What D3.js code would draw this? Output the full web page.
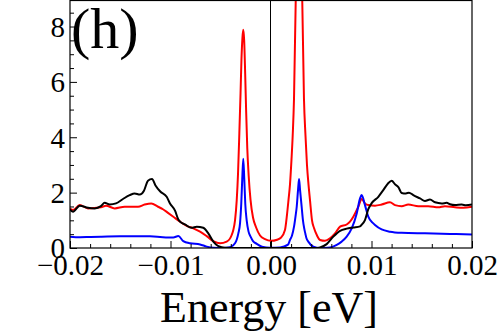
<!DOCTYPE html>
<html>
<head>
<meta charset="utf-8">
<script src="https://cdn.jsdelivr.net/npm/d3@7"></script>
<style>
  html, body { margin: 0; padding: 0; background: #fff; }
  svg { display: block; }
  text { font-family: "Liberation Serif", "DejaVu Serif", serif; fill: #000; }
</style>
</head>
<body>
<svg id="chart" width="500" height="334"></svg>
<script>
// ---- data (energy in eV, density of states) ----
const panelLabel = "(h)";
const xAxisTitle = "Energy [eV]";
const energyTicks = [-0.02, -0.01, 0, 0.01, 0.02];
const energyTickLabels = ["\u22120.02", "\u22120.01", "0.00", "0.01", "0.02"];
const dosTicks = [0, 2, 4, 6, 8];
const dosTickLabels = ["0", "2", "4", "6", "8"];

const blackDOS = [
  [-0.02000,1.39],[-0.01970,1.31],[-0.01903,1.53],[-0.01821,1.45],[-0.01754,1.43],
  [-0.01692,1.51],[-0.01655,1.63],[-0.01605,1.57],[-0.01542,1.61],[-0.01473,1.77],
  [-0.01406,1.91],[-0.01356,1.97],[-0.01306,1.93],[-0.01264,2.07],[-0.01224,2.43],
  [-0.01184,2.49],[-0.01151,2.27],[-0.01104,2.05],[-0.01038,1.85],[-0.01005,1.61],
  [-0.00955,1.35],[-0.00922,1.03],[-0.00905,0.95],[-0.00856,0.85],[-0.00789,0.73],
  [-0.00739,0.77],[-0.00674,0.73],[-0.00624,0.53],[-0.00574,0.23],[-0.00524,0.07],
  [-0.00458,0.01],[-0.00259,0.00],[0.00000,0.00],[0.00289,0.00],[0.00448,0.00],
  [0.00488,0.02],[0.00554,0.14],[0.00620,0.41],[0.00687,0.62],[0.00753,0.70],
  [0.00819,0.74],[0.00886,0.78],[0.00905,0.85],[0.00935,1.01],[0.00968,1.40],
  [0.01002,1.62],[0.01068,1.85],[0.01117,2.09],[0.01164,2.33],[0.01201,2.43],
  [0.01234,2.30],[0.01267,2.20],[0.01300,1.99],[0.01343,1.97],[0.01373,2.00],
  [0.01416,1.91],[0.01483,1.79],[0.01532,1.70],[0.01582,1.75],[0.01632,1.65],
  [0.01699,1.61],[0.01748,1.63],[0.01781,1.58],[0.01831,1.55],[0.01898,1.57],
  [0.01940,1.54],[0.02000,1.57]
];

const redDOS = [
  [-0.02000,1.43],[-0.01970,1.37],[-0.01903,1.55],[-0.01821,1.43],[-0.01692,1.47],
  [-0.01642,1.53],[-0.01555,1.43],[-0.01456,1.49],[-0.01323,1.49],[-0.01257,1.57],
  [-0.01191,1.61],[-0.01124,1.49],[-0.01075,1.40],[-0.01025,1.27],[-0.00972,1.13],
  [-0.00905,0.95],[-0.00839,0.80],[-0.00773,0.71],[-0.00706,0.59],[-0.00640,0.43],
  [-0.00574,0.25],[-0.00507,0.17],[-0.00441,0.23],[-0.00391,0.47],[-0.00375,0.65],
  [-0.00358,1.00],[-0.00341,1.73],[-0.00328,2.70],[-0.00315,4.14],[-0.00303,5.60],
  [-0.00294,6.80],[-0.00284,7.60],[-0.00276,7.88],[-0.00267,7.50],[-0.00257,6.30],
  [-0.00247,4.90],[-0.00236,3.60],[-0.00222,2.60],[-0.00204,1.75],[-0.00179,1.10],
  [-0.00149,0.75],[-0.00109,0.45],[-0.00060,0.32],[0.00000,0.26],[0.00060,0.30],
  [0.00100,0.38],[0.00139,0.65],[0.00159,1.20],[0.00174,1.73],[0.00189,2.30],
  [0.00204,3.20],[0.00216,4.07],[0.00229,5.40],[0.00246,8.94],[0.00259,12.5],
  [0.00269,15.0],[0.00279,16.0],[0.00289,15.0],[0.00299,12.5],[0.00311,8.94],
  [0.00328,5.40],[0.00343,4.07],[0.00358,3.00],[0.00373,2.30],[0.00388,1.73],
  [0.00408,1.00],[0.00428,0.72],[0.00458,0.45],[0.00488,0.29],[0.00537,0.26],
  [0.00587,0.35],[0.00637,0.53],[0.00687,0.77],[0.00753,0.85],[0.00786,0.95],
  [0.00819,1.13],[0.00869,1.49],[0.00902,1.77],[0.00935,1.61],[0.00968,1.55],
  [0.01035,1.53],[0.01101,1.57],[0.01184,1.65],[0.01234,1.55],[0.01300,1.51],
  [0.01366,1.57],[0.01466,1.51],[0.01565,1.51],[0.01665,1.47],[0.01731,1.51],
  [0.01831,1.47],[0.01913,1.45],[0.02000,1.49]
];

const blueDOS = [
  [-0.02000,0.41],[-0.01900,0.39],[-0.01801,0.40],[-0.01692,0.41],[-0.01502,0.42],
  [-0.01353,0.42],[-0.01204,0.42],[-0.01104,0.40],[-0.01025,0.38],[-0.00972,0.38],
  [-0.00922,0.43],[-0.00873,0.25],[-0.00806,0.17],[-0.00706,0.13],[-0.00640,0.05],
  [-0.00574,0.01],[-0.00475,0.00],[-0.00408,0.03],[-0.00358,0.17],[-0.00325,0.53],
  [-0.00308,0.90],[-0.00296,1.60],[-0.00286,2.50],[-0.00276,3.22],[-0.00266,2.50],
  [-0.00256,1.60],[-0.00242,1.00],[-0.00224,0.60],[-0.00202,0.40],[-0.00179,0.25],
  [-0.00142,0.15],[-0.00090,0.05],[-0.00010,0.01],[0.00090,0.02],[0.00169,0.12],
  [0.00189,0.29],[0.00209,0.45],[0.00229,0.77],[0.00246,1.20],[0.00256,1.49],
  [0.00269,2.10],[0.00279,2.49],[0.00289,2.10],[0.00305,1.49],[0.00318,1.00],
  [0.00331,0.70],[0.00343,0.50],[0.00353,0.35],[0.00371,0.23],[0.00421,0.05],
  [0.00488,0.00],[0.00587,0.02],[0.00654,0.11],[0.00703,0.23],[0.00753,0.41],
  [0.00803,0.71],[0.00853,1.25],[0.00886,1.79],[0.00902,1.91],[0.00935,1.55],
  [0.00968,1.13],[0.01018,0.89],[0.01035,0.83],[0.01101,0.67],[0.01184,0.59],
  [0.01300,0.55],[0.01532,0.53],[0.01781,0.51],[0.02000,0.49]
];

// ---- layout ----
const svg = d3.select("#chart");
const plotLeft = 70, plotRight = 472, plotTop = 0.5, plotBottom = 248;
const x = d3.scaleLinear().domain([-0.02, 0.02]).range([plotLeft, plotRight]);
const y = d3.scaleLinear().domain([0, 8.94]).range([plotBottom, plotTop]);
const serif = "'Liberation Serif', 'DejaVu Serif', serif";

svg.append("defs").append("clipPath").attr("id", "plotclip")
  .append("rect").attr("x", plotLeft).attr("y", plotTop)
  .attr("width", plotRight - plotLeft).attr("height", plotBottom - plotTop);

// zero energy line
const x0 = Math.round(x(0)) - 0.5;
svg.append("line")
  .attr("x1", x0).attr("x2", x0).attr("y1", plotTop).attr("y2", plotBottom)
  .attr("stroke", "#000").attr("stroke-width", 1);

const line = d3.line().x(d => x(d[0])).y(d => y(d[1])).curve(d3.curveMonotoneX);
const g = svg.append("g").attr("clip-path", "url(#plotclip)");
[[redDOS, "#ff0000"], [blueDOS, "#0000ff"], [blackDOS, "#000000"]].forEach(([data, col]) => {
  g.append("path").datum(data)
    .attr("d", line).attr("fill", "none")
    .attr("stroke", col).attr("stroke-width", 2).attr("stroke-linejoin", "round");
});

// frame
svg.append("rect")
  .attr("x", plotLeft).attr("y", plotTop)
  .attr("width", plotRight - plotLeft).attr("height", plotBottom - plotTop)
  .attr("fill", "none").attr("stroke", "#000").attr("stroke-width", 1.2);

// bottom axis (ticks inward)
const xAxis = d3.axisBottom(x).tickValues(energyTicks).tickSize(-7)
  .tickFormat((d, i) => energyTickLabels[i]);
const xAxisG = svg.append("g").attr("transform", `translate(0,${plotBottom})`).call(xAxis)
  .attr("font-family", serif).attr("font-size", 29);
xAxisG.select(".domain").remove();
xAxisG.selectAll("line").attr("stroke", "#000").attr("stroke-width", 1);
xAxisG.selectAll("text").attr("y", 27).attr("dy", 0)
  .style("font-size", "29px").style("font-family", serif);

const xMinor = d3.range(-0.02, 0.02001, 0.002).filter(v => Math.abs(Math.round(v * 100) - v * 100) > 1e-6);
const xMinorAxis = d3.axisBottom(x).tickValues(xMinor).tickSize(-4).tickFormat("");
const xm = svg.append("g").attr("transform", `translate(0,${plotBottom})`).call(xMinorAxis);
xm.select(".domain").remove();
xm.selectAll("line").attr("stroke", "#000").attr("stroke-width", 1);

// left axis (ticks inward)
const yAxis = d3.axisLeft(y).tickValues(dosTicks).tickSize(-7)
  .tickFormat((d, i) => dosTickLabels[i]);
const yAxisG = svg.append("g").attr("transform", `translate(${plotLeft},0)`).call(yAxis)
  .attr("font-family", serif).attr("font-size", 29);
yAxisG.select(".domain").remove();
yAxisG.selectAll("line").attr("stroke", "#000").attr("stroke-width", 1);
yAxisG.selectAll("text").attr("x", -5).attr("dy", "0.34em")
  .style("font-size", "29px").style("font-family", serif);

const yMinor = d3.range(0.5, 8.94, 0.5).filter(v => Math.abs(v % 2) > 1e-6);
const yMinorAxis = d3.axisLeft(y).tickValues(yMinor).tickSize(-4).tickFormat("");
const ym = svg.append("g").attr("transform", `translate(${plotLeft},0)`).call(yMinorAxis);
ym.select(".domain").remove();
ym.selectAll("line").attr("stroke", "#000").attr("stroke-width", 1);

// panel label
svg.append("text").attr("x", 71).attr("y", 48)
  .style("font-size", "58px").style("font-family", serif).text(panelLabel);

// axis title
svg.append("text").attr("x", 269).attr("y", 322).attr("text-anchor", "middle")
  .style("font-size", "44px").style("font-family", serif).text(xAxisTitle);
</script>
</body>
</html>
